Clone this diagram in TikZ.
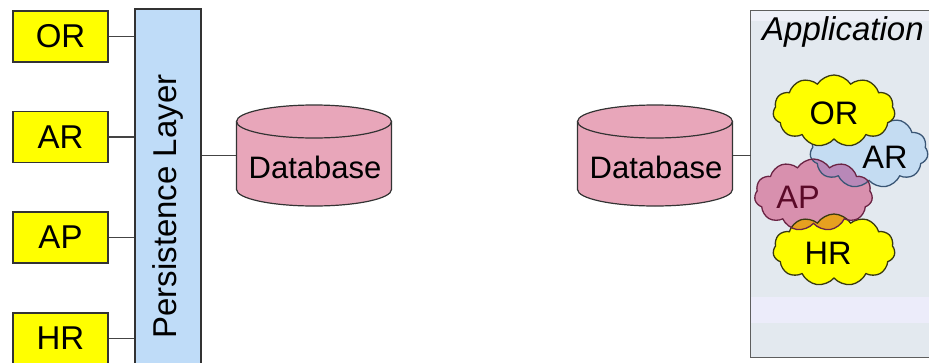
\documentclass[tikz,border=0pt]{standalone}
\usepackage{fontspec}
\setmainfont{Liberation Sans}
\usetikzlibrary{shapes.symbols}

\definecolor{boxyellow}{HTML}{FFFF00}
\definecolor{layerblue}{HTML}{BFDCF8}
\definecolor{dbpink}{HTML}{E8A6BA}
\definecolor{edge}{HTML}{333333}
\definecolor{wire}{HTML}{444444}
\definecolor{appframe}{HTML}{5E5E5E}
\definecolor{appfill}{HTML}{E3E9EF}
\definecolor{apptop}{HTML}{EEF0F8}
\definecolor{appband}{HTML}{ECECFA}
\definecolor{arblue}{HTML}{C4DCF2}
\definecolor{arline}{HTML}{3A5675}
\definecolor{apmauve}{HTML}{D890AE}
\definecolor{apline}{HTML}{6A2444}
\definecolor{aptext}{HTML}{5A0A28}
\definecolor{mixpurple}{HTML}{B888B8}
\definecolor{mixorange}{HTML}{E6A020}
\definecolor{yline}{HTML}{3A3A10}

\tikzset{
  every node/.style={font=\fontsize{33}{38}\selectfont, inner sep=0pt},
  dbfont/.style={font=\fontsize{31}{36}\selectfont},
  cloudfont/.style={font=\fontsize{32.5}{38}\selectfont},
  unitbox/.style={draw=edge, line width=1.2pt, fill=boxyellow,
    minimum width=95pt, minimum height=51pt},
  layer/.style={draw=edge, line width=1.2pt, fill=layerblue,
    minimum width=66pt, minimum height=380pt},
  link/.style={draw=wire, line width=1.2pt},
  dbbody/.style={fill=dbpink},
  dbline/.style={draw=edge, line width=1.2pt},
  puff/.style={cloud, cloud puffs=11, cloud puff arc=115, cloud ignores aspect,
    line width=1.3pt},
  yellowcloud/.style={puff, draw=yline, fill=boxyellow,
    minimum width=122pt, minimum height=72pt},
  arcloud/.style={puff, draw=arline, fill=arblue,
    minimum width=118pt, minimum height=73pt},
  apcloud/.style={puff, draw=apline, fill=apmauve,
    minimum width=118pt, minimum height=72pt},
  % a database drum: 155 wide, 101 tall, ellipse half-height 16.5
  pics/drum/.style={code={
    \fill[dbbody] (-77.5,-34) rectangle (77.5,34);
    \fill[dbbody] (0,34) ellipse [x radius=77.5, y radius=16.5];
    \draw[dbline] (-77.5,-34) -- (-77.5,34)
      arc[start angle=180, end angle=0, x radius=77.5, y radius=16.5]
      -- (77.5,-34);
    \draw[dbline, fill=dbpink] (0,-34) ellipse [x radius=77.5, y radius=16.5];
  }}
}

\begin{document}
\begin{tikzpicture}[x=1pt, y=-1pt]
\useasboundingbox (0,0) rectangle (929,362);
\clip (0,0) rectangle (929,362);

% ---- left: modules wired through a persistence layer ----
\node[layer] (pl) at (168,199) {};
\node[rotate=90] (pltext) at (168,206.5) {Persistence Layer};

\node[unitbox] (or) at (60.5,36.5) {OR};
\node[unitbox] (ar) at (60.5,137) {AR};
\node[unitbox] (ap) at (60.5,237.5) {AP};
\node[unitbox] (hr) at (60.5,338.5) {HR};

\foreach \m in {or,ar,ap,hr}
  \draw[link] (\m.east) -- (\m.east -| pl.west);

\pic at (314,155.5) {drum};
\node[minimum width=155pt, minimum height=101pt] (db1) at (314,155.5) {};
\node[dbfont] (db1text) at (315,167) {Database};
\draw[link] (db1.west -| pl.east) -- (db1.west);

% ---- right: one application holding all modules ----
\pic at (655,155.5) {drum};
\node[minimum width=155pt, minimum height=101pt] (db2) at (655,155.5) {};
\node[dbfont] (db2text) at (656,167) {Database};

\node[minimum width=209pt, minimum height=346pt] (app) at (855.5,184) {};
\begin{scope}
  \clip (app.north west) rectangle (app.south east);
  \fill[appfill] (app.north west) rectangle (app.south east);
  \fill[apptop] (751,11) rectangle (960,21);
  \fill[appband] (751,297) rectangle (960,323);
\end{scope}
\draw[draw=appframe, line width=1.3pt] (app.north west) rectangle (app.south east);
\draw[link] (db2.east) -- (db2.east -| app.west);
\node[anchor=base west, font=\fontsize{33}{38}\selectfont\itshape] (apptitle)
  at (762,40) {Application};

\node[arcloud] (car) at (869,151.5) {};
\node[yellowcloud] (cor) at (834,111) {};
\node[yellowcloud] (chr) at (834,250) {};
\node[apcloud, path picture={
    \node[arcloud, draw=arline, fill=mixpurple] at (car.center) {};
    \node[yellowcloud, fill=mixorange] at (chr.center) {};
  }] (cap) at (813.5,195) {};

\node[cloudfont] (cortext) at (834,113) {OR};
\node[cloudfont] (cartext) at (885,157) {AR};
\node[cloudfont, text=aptext] (captext) at (798,197) {AP};
\node[cloudfont] (chrtext) at (828,253) {HR};
\end{tikzpicture}
\end{document}
